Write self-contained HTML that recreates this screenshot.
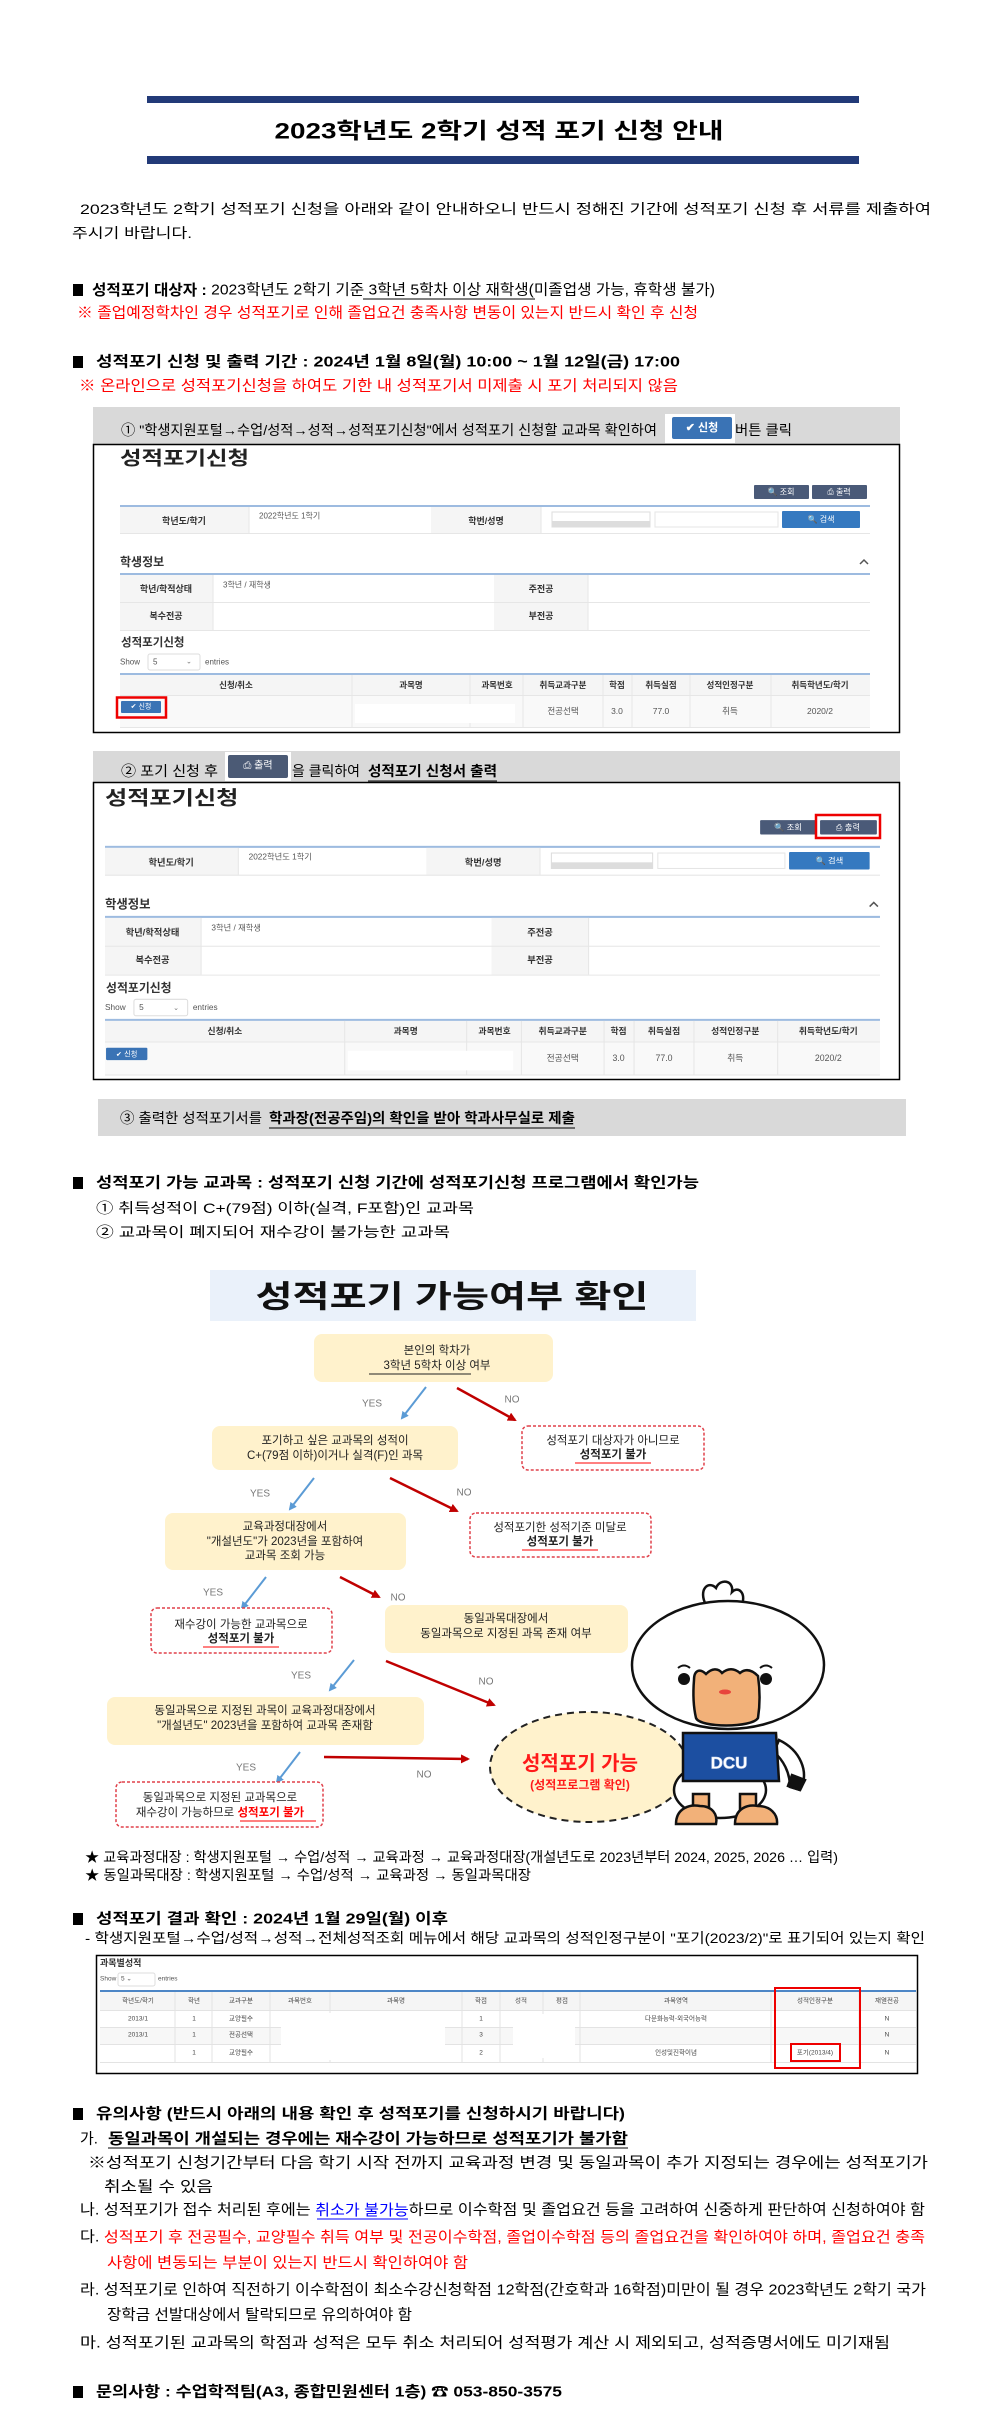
<!DOCTYPE html>
<html><head><meta charset="utf-8"><style>
html,body{margin:0;padding:0;background:#fff}
svg{display:block}
text{font-family:"Liberation Sans","Noto Sans CJK KR",sans-serif}
.b{font-size:14px;fill:#000}
.h{font-size:15px;fill:#000}
.r{fill:#ff0000}
.sm{font-size:9px;fill:#333}
.fc{font-size:11.5px;fill:#222}
</style></head><body>
<svg width="992" height="2429" viewBox="0 0 992 2429" xmlns="http://www.w3.org/2000/svg">
<defs>
<marker id="ab" markerWidth="8" markerHeight="8" refX="6" refY="4" orient="auto" markerUnits="userSpaceOnUse"><path d="M0,0 L8,4 L0,8 z" fill="#5b9bd5"/></marker>
<marker id="ar" markerWidth="9" markerHeight="9" refX="7" refY="4.5" orient="auto" markerUnits="userSpaceOnUse"><path d="M0,0 L9,4.5 L0,9 z" fill="#c00000"/></marker>
</defs>

<!-- Title -->
<rect x="147" y="96" width="712" height="7" fill="#223a78"/>
<text x="499" y="131" text-anchor="middle" dominant-baseline="central" font-size="22" font-weight="bold" textLength="449" lengthAdjust="spacingAndGlyphs">2023학년도 2학기 성적 포기 신청 안내</text>
<rect x="147" y="156" width="712" height="8" fill="#223a78"/>

<text class="b" x="80" y="209" dominant-baseline="central" textLength="851" lengthAdjust="spacingAndGlyphs">2023학년도 2학기 성적포기 신청을 아래와 같이 안내하오니 반드시 정해진 기간에 성적포기 신청 후 서류를 제출하여</text>
<text class="b" x="72" y="233" dominant-baseline="central" textLength="120" lengthAdjust="spacingAndGlyphs">주시기 바랍니다.</text>

<rect x="73" y="284" width="10" height="12" fill="#000"/>
<text class="h" x="92" y="290" dominant-baseline="central" textLength="623" lengthAdjust="spacingAndGlyphs"><tspan font-weight="bold">성적포기 대상자 : </tspan>2023학년도 2학기 기준 3학년 5학차 이상 재학생(미졸업생 가능, 휴학생 불가)</text>
<line x1="363" y1="299" x2="535" y2="299" stroke="#000" stroke-width="1"/>
<text class="h r" x="77" y="313" dominant-baseline="central" textLength="621" lengthAdjust="spacingAndGlyphs">※ 졸업예정학차인 경우 성적포기로 인해 졸업요건 충족사항 변동이 있는지 반드시 확인 후 신청</text>

<rect x="73" y="356" width="10" height="12" fill="#000"/>
<text class="h" x="96" y="362" dominant-baseline="central" font-weight="bold" textLength="584" lengthAdjust="spacingAndGlyphs">성적포기 신청 및 출력 기간 : 2024년 1월 8일(월) 10:00 ~ 1월 12일(금) 17:00</text>
<text class="h r" x="79" y="386" dominant-baseline="central" textLength="599" lengthAdjust="spacingAndGlyphs">※ 온라인으로 성적포기신청을 하여도 기한 내 성적포기서 미제출 시 포기 처리되지 않음</text>

<!-- Gray box 1 -->
<rect x="93" y="407" width="807" height="37" fill="#d9d9d9"/>
<text class="b" x="121" y="430" dominant-baseline="central" textLength="536" lengthAdjust="spacingAndGlyphs">① "학생지원포털→수업/성적→성적→성적포기신청"에서 성적포기 신청할 교과목 확인하여</text>
<rect x="665" y="414" width="70" height="29" fill="#fff"/>
<rect x="672" y="417" width="60" height="22" rx="2" fill="#3a73b5"/>
<text x="702" y="428" text-anchor="middle" dominant-baseline="central" font-size="11" fill="#fff" font-weight="bold">✔ 신청</text>
<text class="b" x="735" y="430" dominant-baseline="central" textLength="57" lengthAdjust="spacingAndGlyphs">버튼 클릭</text>

<!-- Screenshot 1 -->
<rect x="93.5" y="444.5" width="806" height="288" fill="#fff" stroke="#000" stroke-width="1.5"/>
<g id="s1">
<text x="120" y="459" dominant-baseline="central" font-size="19" font-weight="bold" fill="#222" textLength="129" lengthAdjust="spacingAndGlyphs">성적포기신청</text>
<rect x="754" y="485" width="55" height="14" rx="1" fill="#4a5a78"/>
<text x="781" y="492" text-anchor="middle" dominant-baseline="central" font-size="8" fill="#fff">🔍 조회</text>
<rect x="812" y="485" width="55" height="14" rx="1" fill="#4a5a78"/>
<text x="839" y="492" text-anchor="middle" dominant-baseline="central" font-size="8" fill="#fff">⎙ 출력</text>
<rect x="120" y="505" width="750" height="2" fill="#9dbbe0"/>
<rect x="120" y="507" width="129" height="26" fill="#f5f5f5"/>
<rect x="431" y="507" width="110" height="26" fill="#f5f5f5"/>
<line x1="249" y1="507" x2="249" y2="533" stroke="#e6e6e6"/>
<line x1="541" y1="507" x2="541" y2="533" stroke="#e6e6e6"/>
<line x1="120" y1="533.5" x2="870" y2="533.5" stroke="#e6e6e6"/>
<text x="184" y="521" text-anchor="middle" dominant-baseline="central" font-size="9" font-weight="bold" fill="#333">학년도/학기</text>
<text x="259" y="516" dominant-baseline="central" font-size="8" fill="#555">2022학년도 1학기</text>
<text x="486" y="521" text-anchor="middle" dominant-baseline="central" font-size="9" font-weight="bold" fill="#333">학번/성명</text>
<rect x="552" y="512" width="98" height="15" fill="#fff" stroke="#ddd"/>
<rect x="552" y="521" width="98" height="6" fill="#ddd"/>
<rect x="655" y="512" width="123" height="15" fill="#fff" stroke="#e5e5e5"/>
<rect x="782" y="511" width="78" height="17" rx="1" fill="#3579c0"/>
<text x="821" y="519.5" text-anchor="middle" dominant-baseline="central" font-size="8" fill="#fff">🔍 검색</text>
<text x="120" y="562" dominant-baseline="central" font-size="12" font-weight="bold" fill="#333">학생정보</text>
<path d="M860,564 L864,560 L868,564" fill="none" stroke="#555" stroke-width="1.5"/>
<rect x="120" y="573" width="750" height="2" fill="#9dbbe0"/>
<rect x="120" y="575" width="93" height="55" fill="#f5f5f5"/>
<rect x="494" y="575" width="94" height="55" fill="#f5f5f5"/>
<line x1="120" y1="602.5" x2="870" y2="602.5" stroke="#e6e6e6"/>
<line x1="120" y1="630.5" x2="870" y2="630.5" stroke="#e6e6e6"/>
<line x1="213" y1="575" x2="213" y2="630" stroke="#e6e6e6"/>
<line x1="588" y1="575" x2="588" y2="630" stroke="#e6e6e6"/>
<text x="166" y="589" text-anchor="middle" dominant-baseline="central" font-size="9" font-weight="bold" fill="#333">학년/학적상태</text>
<text x="166" y="616" text-anchor="middle" dominant-baseline="central" font-size="9" font-weight="bold" fill="#333">복수전공</text>
<text x="223" y="585" dominant-baseline="central" font-size="8" fill="#555">3학년 / 재학생</text>
<text x="541" y="589" text-anchor="middle" dominant-baseline="central" font-size="9" font-weight="bold" fill="#333">주전공</text>
<text x="541" y="616" text-anchor="middle" dominant-baseline="central" font-size="9" font-weight="bold" fill="#333">부전공</text>
<text x="121" y="643" dominant-baseline="central" font-size="11.5" font-weight="bold" fill="#333">성적포기신청</text>
<text x="120" y="662" dominant-baseline="central" font-size="8" fill="#555">Show</text>
<rect x="148" y="654" width="52" height="16" rx="2" fill="#fff" stroke="#ddd"/>
<text x="153" y="662" dominant-baseline="central" font-size="8" fill="#555">5</text>
<text x="186" y="662" dominant-baseline="central" font-size="7" fill="#777">⌄</text>
<text x="205" y="662" dominant-baseline="central" font-size="8" fill="#555">entries</text>
<rect x="120" y="673" width="750" height="2" fill="#9dbbe0"/>
<rect x="120" y="675" width="750" height="20" fill="#f5f5f5"/>
<rect x="120" y="695" width="750" height="32" fill="#f9f9f9"/>
<line x1="120" y1="695.5" x2="870" y2="695.5" stroke="#e6e6e6"/>
<line x1="120" y1="727.5" x2="870" y2="727.5" stroke="#e6e6e6"/>
<g stroke="#e6e6e6"><line x1="352" y1="675" x2="352" y2="727"/><line x1="470" y1="675" x2="470" y2="727"/><line x1="523" y1="675" x2="523" y2="727"/><line x1="603" y1="675" x2="603" y2="727"/><line x1="632" y1="675" x2="632" y2="727"/><line x1="690" y1="675" x2="690" y2="727"/><line x1="771" y1="675" x2="771" y2="727"/></g>
<g font-size="8.5" font-weight="bold" fill="#333" text-anchor="middle" dominant-baseline="central">
<text x="236" y="685">신청/취소</text><text x="411" y="685">과목명</text><text x="497" y="685">과목번호</text><text x="563" y="685">취득교과구분</text><text x="617" y="685">학점</text><text x="661" y="685">취득실점</text><text x="730" y="685">성적인정구분</text><text x="820" y="685">취득학년도/학기</text>
</g>
<rect x="355" y="704" width="160" height="19" fill="#fff"/>
<g font-size="8.5" fill="#555" text-anchor="middle" dominant-baseline="central">
<text x="563" y="711">전공선택</text><text x="617" y="711">3.0</text><text x="661" y="711">77.0</text><text x="730" y="711">취득</text><text x="820" y="711">2020/2</text>
</g>
<rect x="121" y="701" width="40" height="12" rx="1" fill="#3a73b5"/>
<text x="141" y="707" text-anchor="middle" dominant-baseline="central" font-size="7" fill="#fff">✔ 신청</text>
</g>
<rect x="117" y="697.5" width="49" height="20" fill="none" stroke="#e00" stroke-width="2.5"/>

<!-- Gray box 2 -->
<rect x="93" y="751" width="807" height="31" fill="#d9d9d9"/>
<text class="b" x="121" y="771" dominant-baseline="central" textLength="97" lengthAdjust="spacingAndGlyphs">② 포기 신청 후</text>
<rect x="225" y="752" width="66" height="29" fill="#fff"/>
<rect x="228" y="755" width="60" height="23" rx="2" fill="#4b5a75"/>
<text x="258" y="766" text-anchor="middle" dominant-baseline="central" font-size="10" fill="#fff">⎙ 출력</text>
<text class="b" x="292" y="771" dominant-baseline="central" textLength="68" lengthAdjust="spacingAndGlyphs">을 클릭하여</text>
<text class="b" x="368" y="771" dominant-baseline="central" font-weight="bold" textLength="129" lengthAdjust="spacingAndGlyphs">성적포기 신청서 출력</text>
<line x1="368" y1="781" x2="497" y2="781" stroke="#000"/>

<!-- Screenshot 2 -->
<rect x="93.5" y="782.5" width="806" height="297" fill="#fff" stroke="#000" stroke-width="1.5"/>
<g transform="translate(105 783) scale(1.0333 1.03) translate(-120 -444)">
<text x="120" y="459" dominant-baseline="central" font-size="19" font-weight="bold" fill="#222" textLength="129" lengthAdjust="spacingAndGlyphs">성적포기신청</text>
<rect x="754" y="480" width="55" height="14" rx="1" fill="#4a5a78"/>
<text x="781" y="487" text-anchor="middle" dominant-baseline="central" font-size="8" fill="#fff">🔍 조회</text>
<rect x="812" y="480" width="55" height="14" rx="1" fill="#4a5a78"/>
<text x="839" y="487" text-anchor="middle" dominant-baseline="central" font-size="8" fill="#fff">⎙ 출력</text>
<rect x="120" y="505" width="750" height="2" fill="#9dbbe0"/>
<rect x="120" y="507" width="129" height="26" fill="#f5f5f5"/>
<rect x="431" y="507" width="110" height="26" fill="#f5f5f5"/>
<line x1="249" y1="507" x2="249" y2="533" stroke="#e6e6e6"/>
<line x1="541" y1="507" x2="541" y2="533" stroke="#e6e6e6"/>
<line x1="120" y1="533.5" x2="870" y2="533.5" stroke="#e6e6e6"/>
<text x="184" y="521" text-anchor="middle" dominant-baseline="central" font-size="9" font-weight="bold" fill="#333">학년도/학기</text>
<text x="259" y="516" dominant-baseline="central" font-size="8" fill="#555">2022학년도 1학기</text>
<text x="486" y="521" text-anchor="middle" dominant-baseline="central" font-size="9" font-weight="bold" fill="#333">학번/성명</text>
<rect x="552" y="512" width="98" height="15" fill="#fff" stroke="#ddd"/>
<rect x="552" y="521" width="98" height="6" fill="#ddd"/>
<rect x="655" y="512" width="123" height="15" fill="#fff" stroke="#e5e5e5"/>
<rect x="782" y="511" width="78" height="17" rx="1" fill="#3579c0"/>
<text x="821" y="519.5" text-anchor="middle" dominant-baseline="central" font-size="8" fill="#fff">🔍 검색</text>
<text x="120" y="562" dominant-baseline="central" font-size="12" font-weight="bold" fill="#333">학생정보</text>
<path d="M860,564 L864,560 L868,564" fill="none" stroke="#555" stroke-width="1.5"/>
<rect x="120" y="573" width="750" height="2" fill="#9dbbe0"/>
<rect x="120" y="575" width="93" height="55" fill="#f5f5f5"/>
<rect x="494" y="575" width="94" height="55" fill="#f5f5f5"/>
<line x1="120" y1="602.5" x2="870" y2="602.5" stroke="#e6e6e6"/>
<line x1="120" y1="630.5" x2="870" y2="630.5" stroke="#e6e6e6"/>
<line x1="213" y1="575" x2="213" y2="630" stroke="#e6e6e6"/>
<line x1="588" y1="575" x2="588" y2="630" stroke="#e6e6e6"/>
<text x="166" y="589" text-anchor="middle" dominant-baseline="central" font-size="9" font-weight="bold" fill="#333">학년/학적상태</text>
<text x="166" y="616" text-anchor="middle" dominant-baseline="central" font-size="9" font-weight="bold" fill="#333">복수전공</text>
<text x="223" y="585" dominant-baseline="central" font-size="8" fill="#555">3학년 / 재학생</text>
<text x="541" y="589" text-anchor="middle" dominant-baseline="central" font-size="9" font-weight="bold" fill="#333">주전공</text>
<text x="541" y="616" text-anchor="middle" dominant-baseline="central" font-size="9" font-weight="bold" fill="#333">부전공</text>
<text x="121" y="643" dominant-baseline="central" font-size="11.5" font-weight="bold" fill="#333">성적포기신청</text>
<text x="120" y="662" dominant-baseline="central" font-size="8" fill="#555">Show</text>
<rect x="148" y="654" width="52" height="16" rx="2" fill="#fff" stroke="#ddd"/>
<text x="153" y="662" dominant-baseline="central" font-size="8" fill="#555">5</text>
<text x="186" y="662" dominant-baseline="central" font-size="7" fill="#777">⌄</text>
<text x="205" y="662" dominant-baseline="central" font-size="8" fill="#555">entries</text>
<rect x="120" y="673" width="750" height="2" fill="#9dbbe0"/>
<rect x="120" y="675" width="750" height="20" fill="#f5f5f5"/>
<rect x="120" y="695" width="750" height="32" fill="#f9f9f9"/>
<line x1="120" y1="695.5" x2="870" y2="695.5" stroke="#e6e6e6"/>
<line x1="120" y1="727.5" x2="870" y2="727.5" stroke="#e6e6e6"/>
<g stroke="#e6e6e6"><line x1="352" y1="675" x2="352" y2="727"/><line x1="470" y1="675" x2="470" y2="727"/><line x1="523" y1="675" x2="523" y2="727"/><line x1="603" y1="675" x2="603" y2="727"/><line x1="632" y1="675" x2="632" y2="727"/><line x1="690" y1="675" x2="690" y2="727"/><line x1="771" y1="675" x2="771" y2="727"/></g>
<g font-size="8.5" font-weight="bold" fill="#333" text-anchor="middle" dominant-baseline="central">
<text x="236" y="685">신청/취소</text><text x="411" y="685">과목명</text><text x="497" y="685">과목번호</text><text x="563" y="685">취득교과구분</text><text x="617" y="685">학점</text><text x="661" y="685">취득실점</text><text x="730" y="685">성적인정구분</text><text x="820" y="685">취득학년도/학기</text>
</g>
<rect x="355" y="704" width="160" height="19" fill="#fff"/>
<g font-size="8.5" fill="#555" text-anchor="middle" dominant-baseline="central">
<text x="563" y="711">전공선택</text><text x="617" y="711">3.0</text><text x="661" y="711">77.0</text><text x="730" y="711">취득</text><text x="820" y="711">2020/2</text>
</g>
<rect x="121" y="701" width="40" height="12" rx="1" fill="#3a73b5"/>
<text x="141" y="707" text-anchor="middle" dominant-baseline="central" font-size="7" fill="#fff">✔ 신청</text>
</g>
<rect x="816" y="815" width="64" height="23" fill="none" stroke="#e00" stroke-width="2.5"/>

<!-- Gray box 3 -->
<rect x="98" y="1099" width="808" height="37" fill="#d9d9d9"/>
<text class="b" x="120" y="1118" dominant-baseline="central" textLength="142" lengthAdjust="spacingAndGlyphs">③ 출력한 성적포기서를</text>
<text class="b" x="269" y="1118" dominant-baseline="central" font-weight="bold" textLength="306" lengthAdjust="spacingAndGlyphs">학과장(전공주임)의 확인을 받아 학과사무실로 제출</text>
<line x1="269" y1="1128" x2="575" y2="1128" stroke="#000"/>

<!-- 가능 교과목 -->
<rect x="73" y="1177" width="10" height="12" fill="#000"/>
<text class="h" x="96" y="1183" dominant-baseline="central" font-weight="bold" textLength="603" lengthAdjust="spacingAndGlyphs">성적포기 가능 교과목 : 성적포기 신청 기간에 성적포기신청 프로그램에서 확인가능</text>
<text class="b" x="96" y="1208" dominant-baseline="central" textLength="378" lengthAdjust="spacingAndGlyphs">① 취득성적이 C+(79점) 이하(실격, F포함)인 교과목</text>
<text class="b" x="96" y="1232" dominant-baseline="central" textLength="354" lengthAdjust="spacingAndGlyphs">② 교과목이 폐지되어 재수강이 불가능한 교과목</text>

<!-- Flowchart -->
<rect x="210" y="1270" width="486" height="51" fill="#eaf1fa"/>
<text x="452" y="1297" text-anchor="middle" dominant-baseline="central" font-size="31" font-weight="bold" fill="#111" textLength="393" lengthAdjust="spacingAndGlyphs">성적포기 가능여부 확인</text>

<rect x="314" y="1334" width="239" height="48" rx="8" fill="#fff2cc"/>
<text class="fc" x="437" y="1351" text-anchor="middle" dominant-baseline="central">본인의 학차가</text>
<text class="fc" x="437" y="1366" text-anchor="middle" dominant-baseline="central">3학년 5학차 이상 여부</text>
<line x1="369" y1="1374" x2="471" y2="1374" stroke="#222"/>

<line x1="426" y1="1387" x2="402" y2="1418" stroke="#5b9bd5" stroke-width="2" marker-end="url(#ab)"/>
<text x="372" y="1404" text-anchor="middle" dominant-baseline="central" font-size="10" fill="#777">YES</text>
<line x1="457" y1="1388" x2="515" y2="1420" stroke="#c00000" stroke-width="2.5" marker-end="url(#ar)"/>
<text x="512" y="1400" text-anchor="middle" dominant-baseline="central" font-size="10" fill="#777">NO</text>

<rect x="212" y="1426" width="246" height="44" rx="8" fill="#fff2cc"/>
<text class="fc" x="335" y="1441" text-anchor="middle" dominant-baseline="central">포기하고 싶은 교과목의 성적이</text>
<text class="fc" x="335" y="1456" text-anchor="middle" dominant-baseline="central">C+(79점 이하)이거나 실격(F)인 과목</text>

<rect x="522" y="1426" width="182" height="44" rx="6" fill="#fff" stroke="#e0404a" stroke-width="1.5" stroke-dasharray="3 2"/>
<text class="fc" x="613" y="1441" text-anchor="middle" dominant-baseline="central">성적포기 대상자가 아니므로</text>
<text class="fc" x="613" y="1455" text-anchor="middle" dominant-baseline="central" fill="#ff0000" font-weight="bold">성적포기 불가</text>
<line x1="575" y1="1463" x2="651" y2="1463" stroke="#ff0000"/>

<line x1="314" y1="1478" x2="290" y2="1509" stroke="#5b9bd5" stroke-width="2" marker-end="url(#ab)"/>
<text x="260" y="1494" text-anchor="middle" dominant-baseline="central" font-size="10" fill="#777">YES</text>
<line x1="390" y1="1478" x2="457" y2="1511" stroke="#c00000" stroke-width="2.5" marker-end="url(#ar)"/>
<text x="464" y="1493" text-anchor="middle" dominant-baseline="central" font-size="10" fill="#777">NO</text>

<rect x="165" y="1513" width="241" height="57" rx="8" fill="#fff2cc"/>
<text class="fc" x="285" y="1527" text-anchor="middle" dominant-baseline="central">교육과정대장에서</text>
<text class="fc" x="285" y="1542" text-anchor="middle" dominant-baseline="central">"개설년도"가 2023년을 포함하여</text>
<text class="fc" x="285" y="1556" text-anchor="middle" dominant-baseline="central">교과목 조회 가능</text>

<rect x="470" y="1513" width="181" height="44" rx="6" fill="#fff" stroke="#e0404a" stroke-width="1.5" stroke-dasharray="3 2"/>
<text class="fc" x="560" y="1528" text-anchor="middle" dominant-baseline="central">성적포기한 성적기준 미달로</text>
<text class="fc" x="560" y="1542" text-anchor="middle" dominant-baseline="central" fill="#ff0000" font-weight="bold">성적포기 불가</text>
<line x1="522" y1="1550" x2="598" y2="1550" stroke="#ff0000"/>

<line x1="266" y1="1577" x2="242" y2="1608" stroke="#5b9bd5" stroke-width="2" marker-end="url(#ab)"/>
<text x="213" y="1593" text-anchor="middle" dominant-baseline="central" font-size="10" fill="#777">YES</text>
<line x1="340" y1="1577" x2="379" y2="1597" stroke="#c00000" stroke-width="2.5" marker-end="url(#ar)"/>
<text x="398" y="1598" text-anchor="middle" dominant-baseline="central" font-size="10" fill="#777">NO</text>

<rect x="151" y="1608" width="181" height="45" rx="6" fill="#fff" stroke="#e0404a" stroke-width="1.5" stroke-dasharray="3 2"/>
<text class="fc" x="241" y="1625" text-anchor="middle" dominant-baseline="central">재수강이 가능한 교과목으로</text>
<text class="fc" x="241" y="1639" text-anchor="middle" dominant-baseline="central" fill="#ff0000" font-weight="bold">성적포기 불가</text>
<line x1="203" y1="1647" x2="279" y2="1647" stroke="#ff0000"/>

<rect x="385" y="1605" width="243" height="48" rx="8" fill="#fff2cc"/>
<text class="fc" x="506" y="1619" text-anchor="middle" dominant-baseline="central">동일과목대장에서</text>
<text class="fc" x="506" y="1634" text-anchor="middle" dominant-baseline="central">동일과목으로 지정된 과목 존재 여부</text>

<line x1="354" y1="1660" x2="330" y2="1690" stroke="#5b9bd5" stroke-width="2" marker-end="url(#ab)"/>
<text x="301" y="1676" text-anchor="middle" dominant-baseline="central" font-size="10" fill="#777">YES</text>
<line x1="386" y1="1661" x2="494" y2="1705" stroke="#c00000" stroke-width="2.5" marker-end="url(#ar)"/>
<text x="486" y="1682" text-anchor="middle" dominant-baseline="central" font-size="10" fill="#777">NO</text>

<rect x="107" y="1697" width="317" height="48" rx="8" fill="#fff2cc"/>
<text class="fc" x="265" y="1711" text-anchor="middle" dominant-baseline="central">동일과목으로 지정된 과목이 교육과정대장에서</text>
<text class="fc" x="265" y="1726" text-anchor="middle" dominant-baseline="central">"개설년도" 2023년을 포함하여 교과목 존재함</text>

<line x1="300" y1="1752" x2="277" y2="1782" stroke="#5b9bd5" stroke-width="2" marker-end="url(#ab)"/>
<text x="246" y="1768" text-anchor="middle" dominant-baseline="central" font-size="10" fill="#777">YES</text>
<line x1="324" y1="1757" x2="468" y2="1759" stroke="#c00000" stroke-width="2.5" marker-end="url(#ar)"/>
<text x="424" y="1775" text-anchor="middle" dominant-baseline="central" font-size="10" fill="#777">NO</text>

<rect x="116" y="1782" width="207" height="45" rx="6" fill="#fff" stroke="#e0404a" stroke-width="1.5" stroke-dasharray="3 2"/>
<text class="fc" x="220" y="1798" text-anchor="middle" dominant-baseline="central">동일과목으로 지정된 교과목으로</text>
<text class="fc" x="220" y="1813" text-anchor="middle" dominant-baseline="central">재수강이 가능하므로 <tspan fill="#ff0000" font-weight="bold">성적포기 불가</tspan></text>
<line x1="240" y1="1821" x2="316" y2="1821" stroke="#ff0000"/>

<ellipse cx="589" cy="1767" rx="99" ry="55" fill="#fff2cc" stroke="#222" stroke-width="2" stroke-dasharray="7 5"/>
<text x="580" y="1764" text-anchor="middle" dominant-baseline="central" font-size="20" font-weight="bold" fill="#ff1a1a">성적포기 가능</text>
<text x="580" y="1785" text-anchor="middle" dominant-baseline="central" font-size="12" font-weight="bold" fill="#ff1a1a">(성적프로그램 확인)</text>

<!-- Mascot -->
<g stroke="#111" stroke-width="2.5">
<path d="M706,1605 C698,1590 708,1580 716,1588 C720,1578 734,1580 732,1592 C738,1586 746,1592 742,1605" fill="#fff"/>
<ellipse cx="720" cy="1790" rx="46" ry="28" fill="#fff"/>
<path d="M779,1740 C800,1750 810,1772 800,1790 L790,1787 C790,1772 783,1760 774,1752 Z" fill="#fff"/>
<path d="M792,1775 L805,1780 L800,1790 L788,1786 Z" fill="#111"/>
<rect x="693" y="1794" width="16" height="16" fill="#f2b179"/>
<rect x="740" y="1794" width="16" height="16" fill="#f2b179"/>
<path d="M676,1824 C676,1808 690,1804 700,1806 C712,1806 718,1814 716,1824 Z" fill="#f2b179"/>
<path d="M735,1824 C735,1808 748,1804 758,1806 C770,1806 778,1814 777,1824 Z" fill="#f2b179"/>
<path d="M683,1733 L776,1733 L779,1781 L683,1781 Z" fill="#1c4fa1"/>
<ellipse cx="728" cy="1665" rx="96" ry="64" fill="#fff"/>
<path d="M694,1680 C694,1670 700,1668 706,1674 C712,1668 718,1668 722,1673 C728,1668 734,1668 740,1673 C746,1668 752,1670 758,1676 C760,1690 760,1705 758,1718 C752,1728 700,1728 696,1718 C693,1705 693,1692 694,1680 Z" fill="#f2b179"/>
</g>
<ellipse cx="725" cy="1692" rx="6" ry="2.5" fill="#e8453c"/>
<circle cx="684" cy="1679" r="6" fill="#111"/>
<circle cx="766" cy="1679" r="6" fill="#111"/>
<path d="M678,1668 Q684,1663 690,1668" fill="none" stroke="#111" stroke-width="2"/>
<path d="M760,1668 Q766,1663 772,1668" fill="none" stroke="#111" stroke-width="2"/>
<text x="729" y="1763" text-anchor="middle" dominant-baseline="central" font-size="17" font-weight="bold" fill="#fff" stroke="#c8d6f0" stroke-width="0.6" font-family="Liberation Serif, serif">DCU</text>

<!-- Notes -->
<text class="b" x="85" y="1857" dominant-baseline="central" textLength="753" lengthAdjust="spacingAndGlyphs">★ 교육과정대장 : 학생지원포털 → 수업/성적 → 교육과정 → 교육과정대장(개설년도로 2023년부터 2024, 2025, 2026 … 입력)</text>
<text class="b" x="85" y="1875" dominant-baseline="central" textLength="446" lengthAdjust="spacingAndGlyphs">★ 동일과목대장 : 학생지원포털 → 수업/성적 → 교육과정 → 동일과목대장</text>

<rect x="73" y="1913" width="10" height="12" fill="#000"/>
<text class="h" x="96" y="1919" dominant-baseline="central" font-weight="bold" textLength="352" lengthAdjust="spacingAndGlyphs">성적포기 결과 확인 : 2024년 1월 29일(월) 이후</text>
<text class="b" x="85" y="1938" dominant-baseline="central" textLength="840" lengthAdjust="spacingAndGlyphs">- 학생지원포털→수업/성적→성적→전체성적조회 메뉴에서 해당 교과목의 성적인정구분이 "포기(2023/2)"로 표기되어 있는지 확인</text>

<!-- Screenshot 3 -->
<rect x="96.5" y="1955.5" width="821" height="118" fill="#fff" stroke="#000" stroke-width="1.5"/>
<text x="100" y="1963" dominant-baseline="central" font-size="9" font-weight="bold" fill="#333">과목별성적</text>
<text x="100" y="1979" dominant-baseline="central" font-size="6.5" fill="#555">Show</text>
<rect x="118" y="1973" width="37" height="13" rx="2" fill="#fff" stroke="#ddd"/>
<text x="121" y="1979" dominant-baseline="central" font-size="6.5" fill="#555">5   ⌄</text>
<text x="158" y="1979" dominant-baseline="central" font-size="6.5" fill="#555">entries</text>
<rect x="100" y="1990" width="816" height="2" fill="#4d86c6"/>
<rect x="100" y="1992" width="816" height="18" fill="#f5f5f5"/>
<rect x="100" y="2027" width="816" height="17" fill="#f7f7f7"/>
<g stroke="#e3e3e3"><line x1="100" y1="2010.5" x2="916" y2="2010.5"/><line x1="100" y1="2027.5" x2="916" y2="2027.5"/><line x1="100" y1="2044.5" x2="916" y2="2044.5"/><line x1="100" y1="2062.5" x2="916" y2="2062.5"/>
<line x1="175" y1="1992" x2="175" y2="2062"/><line x1="212" y1="1992" x2="212" y2="2062"/><line x1="270" y1="1992" x2="270" y2="2062"/><line x1="330" y1="1992" x2="330" y2="2062"/><line x1="462" y1="1992" x2="462" y2="2062"/><line x1="500" y1="1992" x2="500" y2="2062"/><line x1="543" y1="1992" x2="543" y2="2062"/><line x1="580" y1="1992" x2="580" y2="2062"/><line x1="771" y1="1992" x2="771" y2="2062"/><line x1="859" y1="1992" x2="859" y2="2062"/></g>
<g font-size="6.5" fill="#444" text-anchor="middle" dominant-baseline="central">
<text x="138" y="2001">학년도/학기</text><text x="194" y="2001">학년</text><text x="241" y="2001">교과구분</text><text x="300" y="2001">과목번호</text><text x="396" y="2001">과목명</text><text x="481" y="2001">학점</text><text x="521" y="2001">성적</text><text x="562" y="2001">평점</text><text x="676" y="2001">과목영역</text><text x="815" y="2001">성적인정구분</text><text x="887" y="2001">재열전공</text>
<text x="138" y="2019">2013/1</text><text x="194" y="2019">1</text><text x="241" y="2019">교양필수</text><text x="481" y="2019">1</text><text x="676" y="2019">다문화능력-외국어능력</text><text x="887" y="2019">N</text>
<text x="138" y="2035">2013/1</text><text x="194" y="2035">1</text><text x="241" y="2035">전공선택</text><text x="481" y="2035">3</text><text x="887" y="2035">N</text>
<text x="194" y="2053">1</text><text x="241" y="2053">교양필수</text><text x="481" y="2053">2</text><text x="676" y="2053">인성및진학이념</text><text x="815" y="2053">포기(2013/4)</text><text x="887" y="2053">N</text>
</g>
<rect x="281" y="2013" width="164" height="47" fill="#fff"/>
<rect x="513" y="2014" width="62" height="44" fill="#fff"/>
<rect x="123" y="2046" width="35" height="14" fill="#fff"/>
<rect x="775" y="1988" width="85" height="80" fill="none" stroke="#e00" stroke-width="2"/>
<rect x="791" y="2044" width="49" height="17" fill="none" stroke="#e00" stroke-width="2"/>

<!-- 유의사항 -->
<rect x="73" y="2108" width="10" height="12" fill="#000"/>
<text class="h" x="96" y="2114" dominant-baseline="central" font-weight="bold" textLength="529" lengthAdjust="spacingAndGlyphs">유의사항 (반드시 아래의 내용 확인 후 성적포기를 신청하시기 바랍니다)</text>
<text class="h" x="80" y="2139" dominant-baseline="central">가.</text>
<text class="h" x="108" y="2139" dominant-baseline="central" font-weight="bold" textLength="520" lengthAdjust="spacingAndGlyphs">동일과목이 개설되는 경우에는 재수강이 가능하므로 성적포기가 불가함</text>
<line x1="108" y1="2148" x2="628" y2="2148" stroke="#000"/>
<text class="h" x="88" y="2163" dominant-baseline="central" textLength="840" lengthAdjust="spacingAndGlyphs">※성적포기 신청기간부터 다음 학기 시작 전까지 교육과정 변경 및 동일과목이 추가 지정되는 경우에는 성적포기가</text>
<text class="h" x="104" y="2187" dominant-baseline="central" textLength="109" lengthAdjust="spacingAndGlyphs">취소될 수 있음</text>
<text class="h" x="80" y="2210" dominant-baseline="central" textLength="845" lengthAdjust="spacingAndGlyphs">나. 성적포기가 접수 처리된 후에는 <tspan fill="#0000ff">취소가 불가능</tspan>하므로 이수학점 및 졸업요건 등을 고려하여 신중하게 판단하여 신청하여야 함</text>
<line x1="317" y1="2219" x2="408" y2="2219" stroke="#0000ff"/>
<text class="h" x="80" y="2237" dominant-baseline="central" textLength="845" lengthAdjust="spacingAndGlyphs">다. <tspan fill="#ff0000">성적포기 후 전공필수, 교양필수 취득 여부 및 전공이수학점, 졸업이수학점 등의 졸업요건을 확인하여야 하며, 졸업요건 충족</tspan></text>
<text class="h r" x="107" y="2263" dominant-baseline="central" textLength="361" lengthAdjust="spacingAndGlyphs">사항에 변동되는 부분이 있는지 반드시 확인하여야 함</text>
<text class="h" x="80" y="2290" dominant-baseline="central" textLength="846" lengthAdjust="spacingAndGlyphs">라. 성적포기로 인하여 직전하기 이수학점이 최소수강신청학점 12학점(간호학과 16학점)미만이 될 경우 2023학년도 2학기 국가</text>
<text class="h" x="107" y="2315" dominant-baseline="central" textLength="305" lengthAdjust="spacingAndGlyphs">장학금 선발대상에서 탈락되므로 유의하여야 함</text>
<text class="h" x="80" y="2343" dominant-baseline="central" textLength="810" lengthAdjust="spacingAndGlyphs">마. 성적포기된 교과목의 학점과 성적은 모두 취소 처리되어 성적평가 계산 시 제외되고, 성적증명서에도 미기재됨</text>

<rect x="73" y="2386" width="10" height="12" fill="#000"/>
<text class="h" x="96" y="2392" dominant-baseline="central" font-weight="bold" textLength="466" lengthAdjust="spacingAndGlyphs">문의사항 : 수업학적팀(A3, 종합민원센터 1층) ☎ 053-850-3575</text>
</svg>
</body></html>
